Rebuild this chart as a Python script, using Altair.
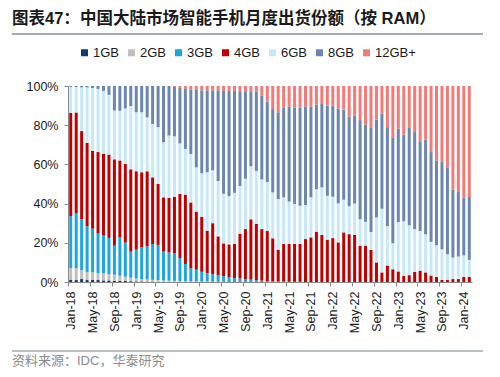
import altair as alt
import pandas as pd

mon = ["Jan", "Feb", "Mar", "Apr", "May", "Jun", "Jul", "Aug", "Sep", "Oct", "Nov", "Dec"]
months = [f"{m}-{y}" for y in range(18, 25) for m in mon][:74]
tick_months = months[::4]

categories = ["1GB", "2GB", "3GB", "4GB", "6GB", "8GB", "12GB+"]
colors = ["#0E3B70", "#BFBFBF", "#1BA6DF", "#C00000", "#C6E9F8", "#6B87AF", "#F47A77"]

gb1 = [1.2, 1.0, 1.5, 1.0, 1.2, 1.0, 0.8, 0.8, 0.6, 0.6, 0.5, 0.4,
       0.3, 0.3, 0.2, 0.2, 0.1, 0.1, 0.1, 0.1, 0, 0, 0, 0, 0,
       0, 0, 0, 0, 0, 0, 0, 0, 0, 0, 0, 0,
       0, 0, 0, 0, 0, 0, 0, 0, 0, 0, 0, 0, 0,
       0, 0, 0, 0, 0, 0, 0, 0, 0, 0, 0, 0, 0, 0, 0, 0, 0, 0, 0, 0, 0, 0, 0, 0]
gb2 = [5.8, 6.0, 4.5, 4.0, 3.8, 3.6, 3.6, 3.2, 3.1, 2.6, 2.2, 1.8,
       1.5, 1.2, 1.1, 0.9, 0.9, 0.7, 0.6, 0.5, 0.5, 0.4, 0.3, 0.3, 0.2,
       0.2, 0.1, 0.1, 0.1, 0, 0, 0, 0, 0, 0, 0, 0,
       0, 0, 0, 0, 0, 0, 0, 0, 0, 0, 0, 0, 0,
       0, 0, 0, 0, 0, 0, 0, 0, 0, 0, 0, 0, 0, 0, 0, 0, 0, 0, 0, 0, 0, 0, 0, 0]
gb3 = [26.6, 28.0, 26.0, 23.5, 22.2, 20.1, 19.3, 18.5, 14.8, 19.8, 17.5, 13.3,
       14.7, 16.2, 16.9, 18.3, 17.9, 14.7, 14.4, 14.2, 11.7, 8.8, 6.7, 6.0, 5.0,
       4.3, 3.9, 3.4, 2.9, 2.5, 2.0, 1.8, 1.5, 1.2, 1.0, 0.7, 0.5,
       0.3, 0.2, 0.2, 0.1, 0.1, 0.1, 0, 0, 0, 0, 0, 0, 0,
       0, 0, 0, 0, 0, 0, 0, 0, 0, 0, 0, 0, 0, 0, 0, 0, 0, 0, 0, 0, 0, 0, 0, 0]
gb4 = [52.7, 51.5, 45.0, 42.5, 39.8, 41.6, 41.8, 42.5, 44.1, 39.0, 40.0, 42.0,
       40.0, 38.3, 38.3, 34.0, 31.1, 27.7, 27.9, 28.7, 32.7, 35.4, 33.6, 29.6, 28.1,
       21.7, 26.0, 19.8, 16.7, 16.7, 17.4, 22.9, 25.5, 30.8, 28.6, 26.3, 25.5,
       22.0, 16.3, 19.2, 19.3, 19.3, 19.3, 21.9, 22.8, 25.7, 24.0, 21.6, 22.4, 20.2,
       25.3, 24.4, 24.0, 18.6, 18.6, 16.4, 10.0, 4.9, 8.4, 6.5, 5.4, 3.2,
       3.5, 5.2, 5.8, 4.9, 3.3, 2.6, 1.1, 1.2, 1.5, 1.5, 2.6, 2.6]
gb6 = [13.2, 13.0, 22.3, 28.3, 32.0, 32.2, 32.0, 30.5, 24.9, 25.4, 28.3, 32.3,
       30.1, 30.6, 27.5, 27.2, 29.0, 28.1, 31.7, 30.8, 25.8, 23.3, 24.7, 22.6, 22.2,
       29.8, 27.0, 28.2, 25.3, 24.6, 26.1, 24.3, 25.7, 27.0, 27.1, 25.3, 25.0,
       23.4, 25.8, 23.8, 21.6, 20.4, 19.5, 17.4, 20.4, 21.7, 24.3, 22.4, 21.1, 20.0,
       16.7, 14.3, 16.0, 13.4, 12.1, 9.1, 23.0, 32.5, 20.1, 13.3, 25.2, 27.8,
       25.5, 21.8, 20.2, 19.4, 17.2, 16.2, 15.6, 12.9, 11.0, 11.5, 11.0, 8.7]
gb8 = [0.5, 0.5, 0.7, 0.7, 1.0, 1.5, 2.5, 4.5, 12.5, 12.6, 11.5, 10.2,
       13.4, 13.4, 16.0, 19.4, 21.0, 28.7, 25.3, 25.2, 28.3, 30.6, 32.7, 39.5, 42.3,
       41.8, 40.8, 46.3, 52.5, 53.7, 52.0, 48.3, 44.6, 38.3, 40.3, 42.7, 41.0,
       42.6, 44.3, 45.9, 48.5, 49.3, 50.1, 50.2, 46.3, 43.1, 42.5, 46.0, 46.5, 48.3,
       46.0, 45.7, 45.0, 50.6, 49.6, 53.1, 49.8, 48.6, 50.5, 53.7, 47.6, 44.2,
       49.6, 49.5, 45.8, 48.4, 45.8, 43.2, 44.5, 44.1, 34.5, 32.9, 29.4, 32.1]
gb12 = [0, 0, 0, 0, 0, 0, 0, 0, 0, 0, 0, 0,
        0, 0, 0, 0, 0, 0, 0, 0.5, 1.0, 1.5, 2.0, 2.0, 2.2,
        2.2, 2.2, 2.2, 2.5, 2.5, 2.5, 2.7, 2.7, 2.7, 3.0, 5.0, 8.0,
        11.7, 13.4, 10.9, 10.5, 10.9, 11.0, 10.5, 10.5, 9.5, 9.2, 10.0, 10.0, 11.5,
        12.0, 15.6, 15.0, 17.4, 19.7, 21.4, 17.2, 14.0, 21.0, 26.5, 21.8, 24.8,
        21.4, 23.5, 28.2, 27.3, 33.7, 38.0, 38.8, 41.8, 53.0, 54.1, 57.0, 56.6]

series = [gb1, gb2, gb3, gb4, gb6, gb8, gb12]

rows = []
for k, (cat, vals) in enumerate(zip(categories, series)):
    for m, v in zip(months, vals):
        rows.append({"month": m, "ram": cat, "k": k, "share": v})
df = pd.DataFrame(rows)

title_a = "图表47："
title_b = "中国大陆市场智能手机月度出货份额（按 RAM）"
source = "资料来源：IDC，华泰研究"

W, H = 404, 196
X0, Y0 = 68, 86  # plot origin in page coords

axis_color = "#8a8a8a"
label_font = "Liberation Sans"
title_font = "Liberation Sans, Noto Sans CJK SC"

bars = alt.Chart(df).mark_bar().encode(
    x=alt.X("month:N", sort=months,
            scale=alt.Scale(paddingInner=0.45, paddingOuter=0.225),
            axis=alt.Axis(values=tick_months, labelAngle=-90, title=None,
                          labelFont=label_font, labelFontSize=12.5, labelColor="#1a1a1a",
                          tickOffset=-W / 74 / 2, labelOffset=W / 74 / 2,
                          tickSize=4, labelPadding=5, domainColor=axis_color,
                          tickColor=axis_color, grid=False)),
    y=alt.Y("share:Q", stack="normalize", scale=alt.Scale(domain=[0, 1]),
            axis=alt.Axis(values=[0, 0.2, 0.4, 0.6, 0.8, 1.0], format=".0%", title=None,
                          labelFont=label_font, labelFontSize=12.5, labelColor="#1a1a1a",
                          tickSize=4, labelPadding=6, domainColor=axis_color,
                          tickColor=axis_color, grid=False)),
    color=alt.Color("ram:N", scale=alt.Scale(domain=categories, range=colors),
                    legend=alt.Legend(orient="none", legendX=10, legendY=46 - Y0,
                                      direction="horizontal", title=None,
                                      symbolType="square", symbolSize=49,
                                      symbolStrokeWidth=0, labelFont=label_font,
                                      labelFontSize=13, labelColor="#1a1a1a",
                                      labelOffset=2, columnPadding=5)),
    order=alt.Order("k:Q", sort="ascending"),
)

def text_layer(txt, x, y, size, color, weight="normal", font=title_font):
    return alt.Chart(pd.DataFrame({"t": [txt]})).mark_text(
        align="left", baseline="middle", fontSize=size, fontWeight=weight,
        font=font, color=color
    ).encode(x=alt.value(x - X0), y=alt.value(y - Y0), text="t:N")

def hrule(y, color, width):
    return alt.Chart(pd.DataFrame({"a": [0]})).mark_rule(
        color=color, strokeWidth=width
    ).encode(x=alt.value(12 - X0), x2=alt.value(483 - X0), y=alt.value(y - Y0))

chart = alt.layer(
    bars,
    text_layer(title_a, 12, 19, 16.5, "#1a1a1a", "bold"),
    text_layer(title_b, 80, 19, 16.5, "#1a1a1a", "bold"),
    hrule(34, "#A3ABB3", 2),
    hrule(351, "#A3ABB3", 1.5),
    text_layer(source, 12, 361, 13, "#8c8c8c"),
).properties(
    width=W, height=H,
    autosize=alt.AutoSizeParams(type="none"),
    padding={"left": X0 - 8, "top": Y0 - 8, "right": 16, "bottom": 92},
).configure_view(stroke=None)

chart.save("out.html", embed_options={"renderer": "svg", "actions": False})
